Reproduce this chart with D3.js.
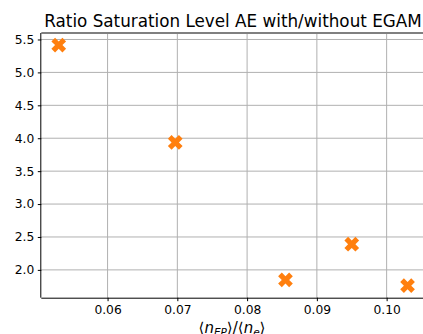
<!DOCTYPE html>
<html>
<head>
<meta charset="utf-8">
<script src="https://cdn.jsdelivr.net/npm/d3@7"></script>
<style>
  body { margin: 0; background: #fff; }
  text { font-family: "DejaVu Sans", sans-serif; fill: #000; }
</style>
</head>
<body>
<div id="chart"></div>
<script>
// values
const ratioEP = [0.0530, 0.0697, 0.0855, 0.0950, 0.1030];
const saturationRatio = [5.415, 3.936, 1.848, 2.39, 1.76];
const xTicks = [0.06, 0.07, 0.08, 0.09, 0.10];
const yTicks = [2.0, 2.5, 3.0, 3.5, 4.0, 4.5, 5.0, 5.5];
const title = "Ratio Saturation Level AE with/without EGAM";

const totalWidth = 423, totalHeight = 334;
const plotLeft = 41.3, plotRight = 425, plotTop = 33, plotBottom = 297.7;

const svg = d3.select("#chart").append("svg")
  .attr("width", totalWidth)
  .attr("height", totalHeight);

const x = d3.scaleLinear().domain([0.0505, 0.1055]).range([plotLeft, plotRight]);
const y = d3.scaleLinear().domain([1.5775, 5.5985]).range([plotBottom, plotTop]);

// grid
svg.append("g").selectAll("line").data(xTicks).enter().append("line")
  .attr("x1", d => x(d)).attr("x2", d => x(d))
  .attr("y1", plotTop).attr("y2", plotBottom)
  .attr("stroke", "#b0b0b0").attr("stroke-width", 1);
svg.append("g").selectAll("line").data(yTicks).enter().append("line")
  .attr("x1", plotLeft).attr("x2", plotRight)
  .attr("y1", d => y(d)).attr("y2", d => y(d))
  .attr("stroke", "#b0b0b0").attr("stroke-width", 1);

// top frame line
svg.append("line")
  .attr("x1", plotLeft).attr("x2", plotRight).attr("y1", plotTop).attr("y2", plotTop)
  .attr("stroke", "#808080").attr("stroke-width", 2);

// axes
const xAxis = svg.append("g")
  .attr("transform", "translate(0," + plotBottom + ")")
  .call(d3.axisBottom(x).tickValues(xTicks).tickFormat(d3.format(".2f")).tickSize(3.5).tickPadding(4));
const yAxis = svg.append("g")
  .attr("transform", "translate(" + plotLeft + ",0)")
  .call(d3.axisLeft(y).tickValues(yTicks).tickFormat(d3.format(".1f")).tickSize(3.5).tickPadding(3.5));
[xAxis, yAxis].forEach(g => {
  g.selectAll("text").style("font-size", "12.3px").style("font-family", "DejaVu Sans");
  g.select(".domain").attr("stroke", "#000").attr("stroke-width", 1);
  g.selectAll(".tick line").attr("stroke", "#000");
});
xAxis.select(".domain").attr("d", "M" + plotLeft + ",0.5H" + plotRight);
yAxis.select(".domain").attr("d", "M-0.5," + plotTop + "V" + plotBottom);

// markers
const xMark = d3.symbol().type(d3.symbolCross).size(135);
svg.append("g").selectAll("path")
  .data(ratioEP.map((v, i) => [v, saturationRatio[i]]))
  .enter().append("path")
  .attr("d", xMark)
  .attr("transform", d => "translate(" + x(d[0]) + "," + y(d[1]) + ") rotate(45)")
  .attr("fill", "#ff7f0e");

// title
svg.append("text")
  .attr("x", 233).attr("y", 26.5)
  .attr("text-anchor", "middle")
  .style("font-size", "16.8px")
  .text(title);

// x label: <n_EP>/<n_e>
const xl = svg.append("text")
  .attr("x", 232).attr("y", 333)
  .attr("text-anchor", "middle")
  .style("font-size", "15px");
xl.append("tspan").text("⟨");
xl.append("tspan").style("font-style", "italic").text("n");
xl.append("tspan").style("font-style", "italic").style("font-size", "10.5px").attr("dy", 3).text("EP");
xl.append("tspan").attr("dy", -3).text("⟩/⟨");
xl.append("tspan").style("font-style", "italic").text("n");
xl.append("tspan").style("font-style", "italic").style("font-size", "10.5px").attr("dy", 3).text("e");
xl.append("tspan").attr("dy", -3).text("⟩");
</script>
</body>
</html>
